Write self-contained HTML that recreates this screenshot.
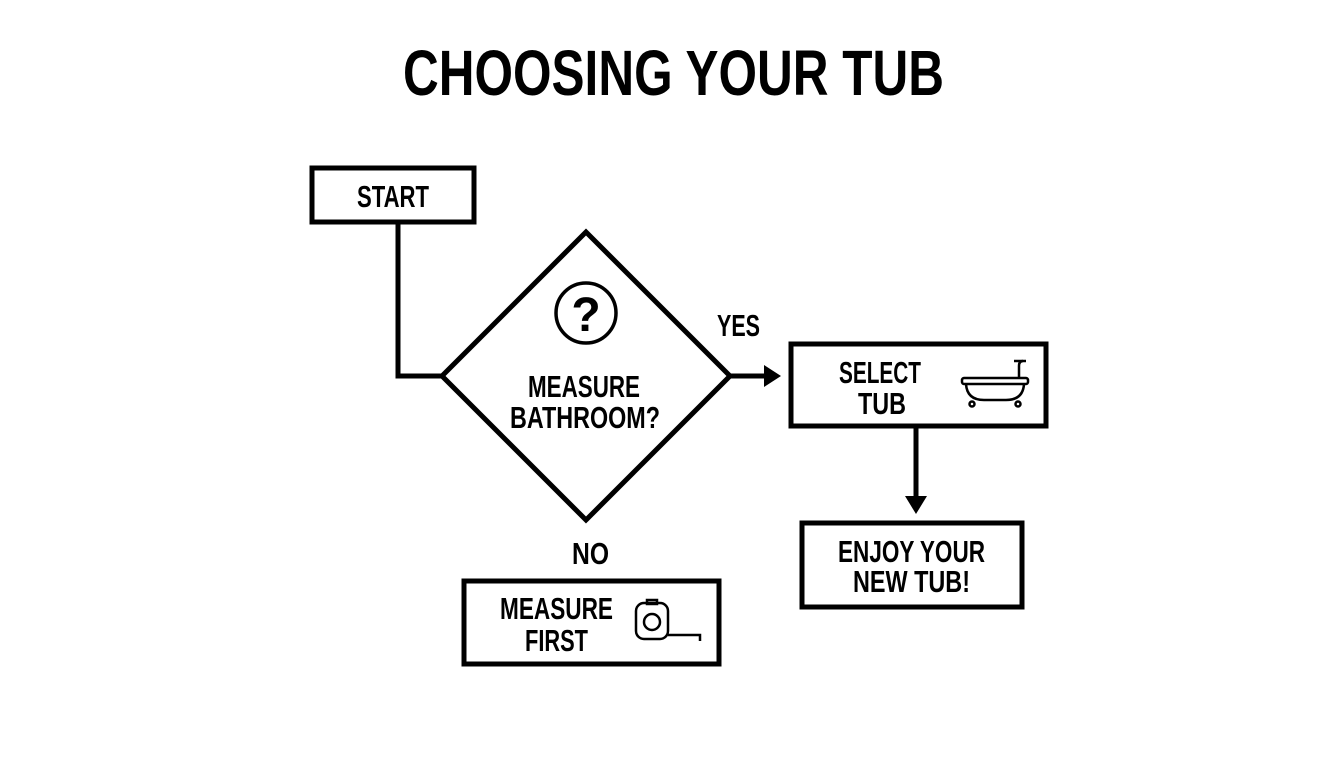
<!DOCTYPE html>
<html><head><style>html,body{margin:0;padding:0;background:#fff}svg{display:block}</style></head>
<body>
<svg width="1344" height="768" viewBox="0 0 1344 768" xmlns="http://www.w3.org/2000/svg" font-family="Liberation Sans, sans-serif" font-weight="bold" fill="#000">
<text x="403" y="95" font-size="64" textLength="541" lengthAdjust="spacingAndGlyphs">CHOOSING YOUR TUB</text>
<g fill="none" stroke="#000" stroke-width="5">
<rect x="312" y="168" width="162" height="54"/>
<polyline points="398,222 398,376 442,376"/>
<polygon points="586,232 442,376 586,520 730,376"/>
<line x1="730" y1="376" x2="766" y2="376"/>
<rect x="791" y="344" width="255" height="82"/>
<line x1="916" y1="426" x2="916" y2="498"/>
<rect x="802" y="523" width="220" height="84"/>
<rect x="464" y="581" width="255" height="83"/>
</g>
<polygon points="764,365 781,376 764,387"/>
<polygon points="905,496 927,496 916,514"/>
<circle cx="586" cy="313" r="30" fill="none" stroke="#000" stroke-width="3.5"/>
<text x="586" y="331" font-size="48" text-anchor="middle">?</text>
<g font-size="31">
<text x="357" y="207" textLength="72" lengthAdjust="spacingAndGlyphs">START</text>
<text x="528" y="397" textLength="112" lengthAdjust="spacingAndGlyphs">MEASURE</text>
<text x="510" y="428" textLength="150" lengthAdjust="spacingAndGlyphs">BATHROOM?</text>
<text x="717" y="336" textLength="43" lengthAdjust="spacingAndGlyphs">YES</text>
<text x="572" y="564" textLength="37" lengthAdjust="spacingAndGlyphs">NO</text>
<text x="839" y="383" textLength="82" lengthAdjust="spacingAndGlyphs">SELECT</text>
<text x="858" y="414" textLength="48" lengthAdjust="spacingAndGlyphs">TUB</text>
<text x="838" y="562" textLength="147" lengthAdjust="spacingAndGlyphs">ENJOY YOUR</text>
<text x="853" y="592" textLength="117" lengthAdjust="spacingAndGlyphs">NEW TUB!</text>
<text x="500" y="619" textLength="113" lengthAdjust="spacingAndGlyphs">MEASURE</text>
<text x="525" y="651" textLength="63" lengthAdjust="spacingAndGlyphs">FIRST</text>
</g>
<!-- tub icon -->
<g fill="none" stroke="#000" stroke-width="2.5">
<rect x="962" y="378" width="66" height="6" rx="2"/>
<path d="M966 384 Q967 400 984 400 L1006 400 Q1023 400 1024 384"/>
<circle cx="972" cy="404" r="2.5"/><circle cx="1018" cy="404" r="2.5"/>
<path d="M1019 378 V366 Q1019 361 1023 361"/>
<line x1="1014" y1="361" x2="1026" y2="361"/>
</g>
<!-- tape measure icon -->
<g fill="none" stroke="#000" stroke-width="2.5">
<rect x="636" y="603" width="32" height="36" rx="8"/>
<circle cx="652" cy="622" r="8"/>
<polyline points="668,635 700,635 700,641"/>
<rect x="647" y="600" width="10" height="4"/>
</g>
</svg>
</body></html>
